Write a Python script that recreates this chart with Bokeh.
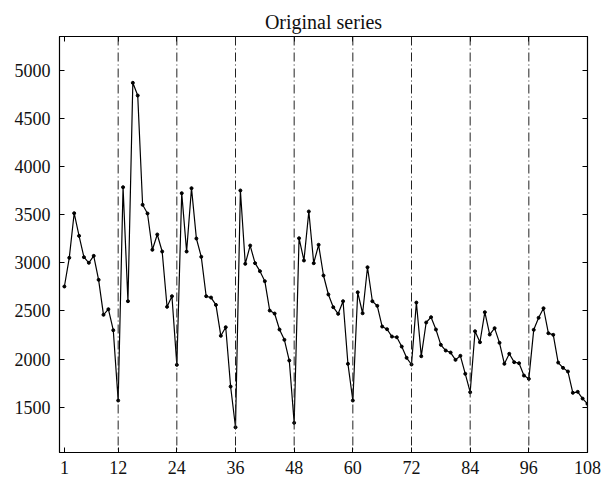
from bokeh.plotting import figure
from bokeh.models import Range1d, FixedTicker, LinearAxis, Span, CustomJSTickFormatter
from bokeh.embed import file_html
from bokeh.resources import INLINE

# Monthly observations, 9 years of 12 months
months = list(range(1, 109))
values = [
    2754, 3052, 3515, 3280, 3058, 3000, 3072, 2823, 2460, 2518, 2300, 1570,
    3785, 2601, 4869, 4737, 3602, 3512, 3135, 3294, 3117, 2543, 2653, 1940,
    3723, 3117, 3775, 3252, 3062, 2653, 2639, 2563, 2242, 2331, 1715, 1292,
    3751, 2989, 3179, 2996, 2913, 2809, 2504, 2473, 2307, 2200, 1985, 1338,
    3255, 3024, 3533, 2996, 3187, 2868, 2671, 2539, 2470, 2601, 1951, 1570,
    2694, 2476, 2954, 2601, 2553, 2338, 2310, 2234, 2227, 2130, 2013, 1944,
    2587, 2030, 2380, 2435, 2307, 2148, 2089, 2068, 1992, 2034, 1847, 1656,
    2289, 2175, 2487, 2255, 2321, 2169, 1951, 2055, 1968, 1957, 1829, 1795,
    2304, 2429, 2528, 2269, 2252, 1964, 1909, 1871, 1650, 1660, 1590, 1535,
]
season_breaks = [12, 24, 36, 48, 60, 72, 84, 96]
x_ticks = [1, 12, 24, 36, 48, 60, 72, 84, 96, 108]
y_ticks = [1500, 2000, 2500, 3000, 3500, 4000, 4500, 5000]

FONT = "Liberation Serif"

p = figure(
    width=604, height=481,
    x_range=Range1d(0, 108), y_range=Range1d(1030, 5350),
    output_backend="svg", toolbar_location=None,
    min_border_left=59, min_border_right=17,
    min_border_top=36, min_border_bottom=29,
    title="Original series",
)
p.title.text_font = FONT
p.title.text_font_size = "20px"
p.title.text_font_style = "normal"
p.title.align = "center"
p.title.text_color = "#111111"
p.title.standoff = 8

p.xgrid.visible = False
p.ygrid.visible = False
p.outline_line_color = "black"
p.outline_line_width = 1.2
p.background_fill_color = "white"
p.border_fill_color = "white"


def style_axis(ax, ticks, show_labels=True):
    ax.ticker = FixedTicker(ticks=ticks)
    ax.major_tick_in = 5
    ax.major_tick_out = 0
    ax.minor_tick_in = 0
    ax.minor_tick_out = 0
    ax.major_tick_line_color = "black"
    ax.axis_line_color = "black"
    ax.major_label_text_font = FONT
    ax.major_label_text_font_size = "18px"
    ax.major_label_text_color = "#111111"
    if not show_labels:
        ax.formatter = CustomJSTickFormatter(code="return '';")
        ax.major_label_text_font_size = "0px"
        ax.major_label_standoff = 0


style_axis(p.xaxis[0], x_ticks)
p.xaxis[0].major_label_standoff = 8
style_axis(p.yaxis[0], y_ticks)
p.yaxis[0].major_label_standoff = 9

top_axis = LinearAxis()
style_axis(top_axis, x_ticks, show_labels=False)
p.add_layout(top_axis, "above")

right_axis = LinearAxis()
style_axis(right_axis, y_ticks, show_labels=False)
p.add_layout(right_axis, "right")

# Year boundaries
for b in season_breaks:
    p.add_layout(Span(location=b, dimension="height", line_color="#222222",
                      line_width=1, line_dash="9 3 1 3"))

p.line(months, values, line_color="black", line_width=1.2)
p.scatter(months, values, size=3, color="black")

open("out.html", "w").write(file_html(p, INLINE))
